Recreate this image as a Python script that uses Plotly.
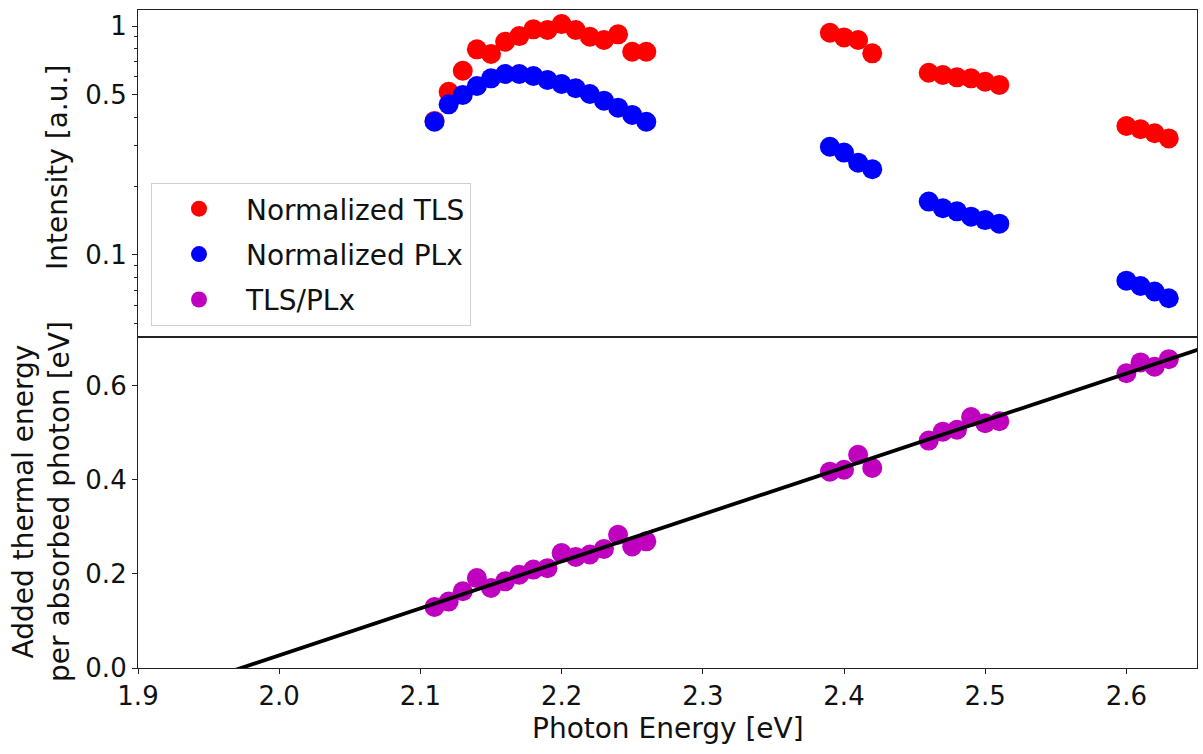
import numpy as np
import plotly.graph_objects as go
from plotly.subplots import make_subplots

# ---- data ----
energy_all = [2.11, 2.12, 2.13, 2.14, 2.15, 2.16, 2.17, 2.18, 2.19, 2.20, 2.21, 2.22, 2.23, 2.24, 2.25, 2.26,
              2.39, 2.40, 2.41, 2.42,
              2.46, 2.47, 2.48, 2.49, 2.50, 2.51,
              2.60, 2.61, 2.62, 2.63]

tls_norm = [0.385, 0.516, 0.638, 0.791, 0.755, 0.854, 0.904, 0.967, 0.961, 1.02, 0.961, 0.898, 0.869, 0.92, 0.772, 0.772,
            0.935, 0.892, 0.869, 0.76,
            0.625, 0.611, 0.597, 0.591, 0.571, 0.553,
            0.366, 0.354, 0.34, 0.323]

plx_norm = [0.382, 0.455, 0.50, 0.547, 0.591, 0.617, 0.617, 0.605, 0.581, 0.558, 0.535, 0.505, 0.472, 0.44, 0.409, 0.382,
            0.297, 0.28, 0.253, 0.237,
            0.171, 0.16, 0.155, 0.147, 0.142, 0.137,
            0.0772, 0.0732, 0.0692, 0.0647]

thermal = [0.1295, 0.141, 0.163, 0.191, 0.17, 0.184, 0.198, 0.209, 0.212, 0.244, 0.236, 0.241, 0.253, 0.283, 0.258, 0.269,
           0.417, 0.421, 0.453, 0.425,
           0.483, 0.502, 0.506, 0.533, 0.52, 0.524,
           0.626, 0.649, 0.64, 0.656]

x_ticks = [1.9, 2.0, 2.1, 2.2, 2.3, 2.4, 2.5, 2.6]
top_ticks = [0.1, 0.5, 1]
top_tick_text = ["0.1", "0.5", "1"]
top_minor = [0.05, 0.06, 0.07, 0.08, 0.09, 0.2, 0.3, 0.4, 0.6, 0.7, 0.8, 0.9]
bottom_ticks = [0.0, 0.2, 0.4, 0.6]

# linear fit of thermal energy vs photon energy
slope, intercept = np.polyfit(energy_all, thermal, 1)
fit_x = np.array([1.9, 2.7])
fit_y = slope * fit_x + intercept

FONT = "DejaVu Sans"
FS_TICK = 26
FS = 28
MS = 20

fig = make_subplots(rows=2, cols=1, shared_xaxes=True, vertical_spacing=0,
                    row_heights=[327, 331])

fig.add_trace(go.Scatter(x=energy_all, y=tls_norm, mode="markers", name="Normalized TLS",
                         legendgroup="a",
                         marker=dict(color="#ff0000", size=MS, line=dict(width=0))), row=1, col=1)
fig.add_trace(go.Scatter(x=energy_all, y=plx_norm, mode="markers", name="Normalized PLx",
                         legendgroup="b",
                         marker=dict(color="#0000ff", size=MS, line=dict(width=0))), row=1, col=1)
fig.add_trace(go.Scatter(x=energy_all, y=thermal, mode="markers", name="TLS/PLx",
                         legendgroup="c",
                         marker=dict(color="#bf00bf", size=MS, line=dict(width=0))), row=2, col=1)
fig.add_trace(go.Scatter(x=fit_x, y=fit_y, mode="lines", showlegend=False,
                         line=dict(color="black", width=3.8)), row=2, col=1)

axis_common = dict(showline=True, linecolor="#222222", linewidth=1.2, mirror=True,
                   showgrid=False, zeroline=False, ticks="outside", ticklen=5, tickwidth=1.2,
                   tickcolor="#222222", tickfont=dict(family=FONT, size=FS_TICK, color="#111111"))

fig.update_xaxes(range=[1.9, 2.65], tickvals=x_ticks, ticktext=[f"{v:.1f}" for v in x_ticks], **axis_common)
fig.update_xaxes(showticklabels=False, ticks="", row=1, col=1)

fig.update_yaxes(type="log", range=[np.log10(0.0438), np.log10(1.175)], tickvals=top_ticks,
                 ticktext=top_tick_text,
                 minor=dict(tickvals=top_minor, ticks="outside", ticklen=3, tickcolor="#222222"),
                 row=1, col=1, **axis_common)
fig.update_yaxes(range=[0, 0.703], tickvals=bottom_ticks, ticktext=[f"{v:.1f}" for v in bottom_ticks],
                 row=2, col=1, **axis_common)

title_font = dict(family=FONT, size=FS, color="#111111")
fig.add_annotation(text="Intensity [a.u.]", xref="paper", yref="paper",
                   x=(58 - 138) / 1059, y=(668 - 168) / 658, textangle=-90, showarrow=False,
                   xanchor="center", yanchor="middle", font=title_font)
fig.add_annotation(text="Added thermal energy<br>per absorbed photon [eV]", xref="paper", yref="paper",
                   x=(42 - 138) / 1059, y=(668 - 502) / 658, textangle=-90, showarrow=False,
                   xanchor="center", yanchor="middle", font=title_font)
fig.add_annotation(text="Photon Energy [eV]", xref="paper", yref="paper",
                   x=(668 - 138) / 1059, y=(668 - 729) / 658, showarrow=False,
                   xanchor="center", yanchor="middle", font=title_font)

fig.update_layout(
    width=1203, height=754,
    margin=dict(l=138, r=6, t=10, b=86),
    paper_bgcolor="white", plot_bgcolor="white",
    font=dict(family=FONT, size=FS, color="#111111"),
    legend=dict(x=(151 - 138) / 1059, y=(668 - 183) / 658, xanchor="left", yanchor="top",
                bgcolor="white", bordercolor="#d0d0d0", borderwidth=1,
                font=dict(family=FONT, size=FS, color="#111111"),
                tracegroupgap=6, itemwidth=84),
    showlegend=True,
)

fig.write_html("out.html")
